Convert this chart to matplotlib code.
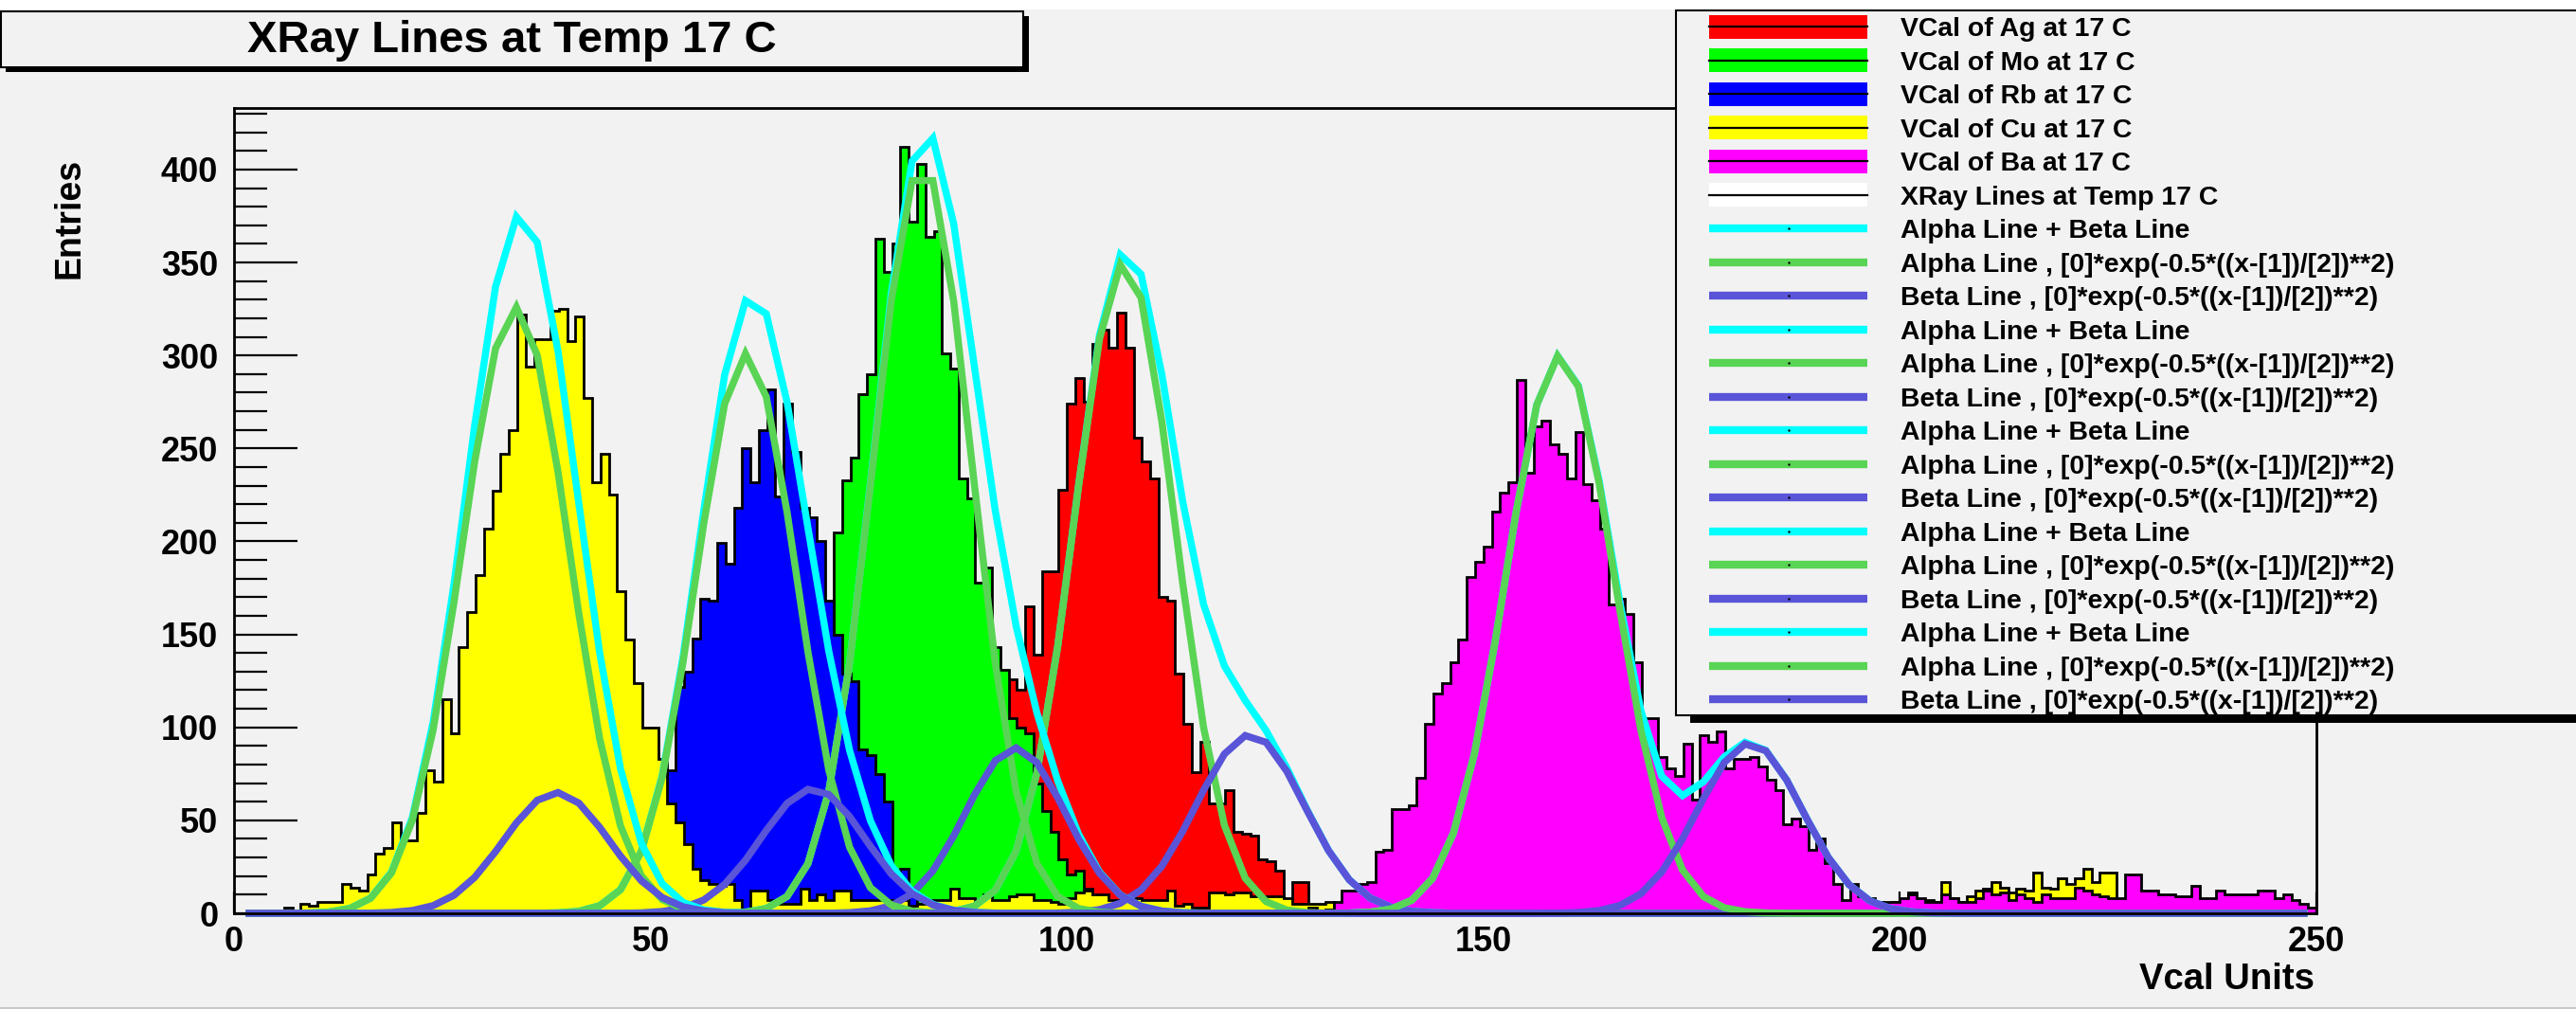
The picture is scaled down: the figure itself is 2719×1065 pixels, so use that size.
import numpy as np
import matplotlib
matplotlib.use('Agg')
import matplotlib.pyplot as plt
from matplotlib.patches import Rectangle
from matplotlib.ticker import MultipleLocator

plt.rcParams['font.family'] = ['Liberation Sans', 'DejaVu Sans']
plt.rcParams['font.weight'] = 'bold'

W, H = 2719, 1065
BG = '#f2f2f2'

# bin contents, one bin per Vcal unit
cu_start = 0
cu_counts = [0, 0, 0, 0, 0, 1, 3, 1, 5, 4,
             6, 6, 6, 16, 14, 12, 21, 32, 35, 49,
             39, 39, 54, 77, 71, 115, 97, 143, 162, 182,
             207, 227, 247, 260, 322, 294, 309, 309, 324, 325,
             308, 321, 277, 232, 247, 225, 173, 147, 124, 100,
             100, 83, 59, 49, 37, 24, 18, 16, 15, 16,
             7, 2, 12, 12, 7, 5, 5, 5, 13, 7,
             10, 7, 12, 12, 7, 7, 7, 7, 7, 7,
             7, 4, 5, 7, 7, 7, 13, 8, 8, 7,
             10, 7, 7, 9, 10, 10, 7, 7, 6, 5,
             8, 11, 12, 10, 10, 7, 7, 8, 8, 7,
             7, 7, 12, 4, 5, 3, 3, 11, 11, 10,
             11, 11, 9, 9, 9, 9, 8, 5, 5, 5,
             5, 6, 4, 4, 5, 4, 5, 6, 4, 5,
             5, 4, 6, 5, 4, 5, 6, 5, 4, 5,
             5, 6, 4, 5, 5, 6, 4, 5, 5, 4,
             5, 6, 5, 4, 5, 5, 4, 6, 5, 4,
             5, 5, 4, 6, 5, 4, 5, 4, 6, 5,
             4, 5, 5, 4, 6, 5, 4, 5, 4, 5,
             4, 5, 4, 5, 4, 4, 5, 6, 5, 6,
             5, 11, 7, 7, 6, 17, 8, 6, 9, 12,
             13, 17, 14, 11, 13, 12, 22, 14, 13, 19,
             16, 19, 24, 17, 22, 22, 6, 8, 8, 8,
             6, 5, 4, 4, 3, 3, 3, 4, 3, 3,
             3, 2, 3, 3, 2, 3, 2, 3, 2, 2]

rb_start = 47
rb_counts = [10, 15, 25, 40, 58, 77, 122, 130, 148, 169,
             168, 199, 188, 218, 250, 232, 260, 282, 224, 274,
             248, 218, 213, 200, 168, 150, 129, 125, 88, 85,
             75, 60, 22, 24, 10, 5, 3, 2]

mo_start = 68
mo_counts = [20, 50, 90, 140, 205, 233, 245, 279, 290, 363,
             345, 360, 412, 372, 403, 364, 367, 301, 293, 234,
             223, 178, 186, 143, 131, 105, 100, 97, 70, 55,
             44, 29, 21, 23, 13, 8, 6, 4, 3, 2]

ag_start = 86
ag_counts = [20, 30, 40, 55, 70, 90, 110, 126, 120, 165,
             139, 184, 184, 228, 274, 288, 275, 306, 314, 304,
             323, 304, 256, 243, 234, 170, 168, 129, 102, 76,
             92, 59, 59, 66, 44, 43, 42, 29, 28, 23,
             7, 17, 17, 3, 2]

ba_start = 129
ba_counts = [3, 0, 2, 6, 12, 12, 16, 17, 33, 34,
             56, 56, 58, 73, 102, 118, 124, 135, 147, 181,
             189, 197, 216, 226, 232, 287, 237, 262, 265, 252,
             247, 234, 259, 231, 222, 207, 166, 169, 161, 135,
             105, 105, 84, 78, 74, 91, 61, 96, 92, 98,
             78, 83, 83, 84, 79, 72, 66, 48, 51, 47,
             34, 40, 27, 16, 7, 16, 9, 8, 6, 6,
             6, 8, 10, 8, 6, 6, 10, 8, 6, 6,
             8, 12, 10, 11, 7, 10, 8, 6, 10, 8,
             8, 8, 14, 12, 10, 9, 8, 8, 21, 21,
             12, 12, 10, 10, 9, 9, 15, 8, 8, 12,
             10, 10, 10, 10, 12, 12, 8, 10, 7, 5,
             3]

# fit parameters per element: amplitude [0], mean [1], sigma [2]
# order: Ag, Mo, Rb, Cu, Ba
alpha_amp = [350, 403, 301, 326, 300]
alpha_mean = [106.9, 82.65, 61.5, 33.8, 159.2]
alpha_sigma = [6.0, 5.9, 6.0, 6.4, 6.5]
beta_amp = [96, 89, 67, 65, 91.5]
beta_mean = [122.0, 93.8, 69.5, 38.7, 182.0]
beta_sigma = [6.5, 6.0, 6.2, 6.3, 6.3]

# points where the fitted functions were sampled (100 points)
fx_start = 1.4
fx_step = 2.5
fx_n = 100

hist_labels = ['VCal of Ag at 17 C', 'VCal of Mo at 17 C', 'VCal of Rb at 17 C',
               'VCal of Cu at 17 C', 'VCal of Ba at 17 C']
hist_colors = ['#ff0000', '#00ff00', '#0000ff', '#ffff00', '#ff00ff']
sum_color = '#00ffff'
alpha_color = '#59d454'
beta_color = '#5954d8'


def full_hist(start, vals):
    c = np.zeros(250)
    c[start:start + len(vals)] = vals
    return c


hists = [full_hist(ag_start, ag_counts), full_hist(mo_start, mo_counts),
         full_hist(rb_start, rb_counts), full_hist(cu_start, cu_counts),
         full_hist(ba_start, ba_counts)]
edges = np.arange(251)

fig = plt.figure(figsize=(W / 100, H / 100), dpi=100, facecolor=BG)
ax = fig.add_axes([247 / W, 1 - 964 / H, (2445 - 247) / W, (964 - 114) / H])
ax.set_facecolor(BG)

z = 2
for counts, col in zip(hists, hist_colors):
    ax.stairs(counts, edges, fill=True, color=col, lw=0, zorder=z)
    ax.stairs(counts, edges, color='black', lw=2.0, zorder=z + 0.5)
    z += 1

xf = fx_start + fx_step * np.arange(fx_n)
for i in range(5):
    a = alpha_amp[i] * np.exp(-0.5 * ((xf - alpha_mean[i]) / alpha_sigma[i]) ** 2)
    b = beta_amp[i] * np.exp(-0.5 * ((xf - beta_mean[i]) / beta_sigma[i]) ** 2)
    for yv, col in ((a + b, sum_color), (a, alpha_color), (b, beta_color)):
        ax.plot(xf, yv, color=col, lw=5.4, clip_on=False, zorder=z,
                solid_joinstyle='miter', solid_capstyle='butt')
        z += 0.1

ax.set_xlim(0, 250)
ax.set_ylim(0, 433.1)
ax.xaxis.set_major_locator(MultipleLocator(50))
ax.xaxis.set_minor_locator(MultipleLocator(10))
ax.yaxis.set_major_locator(MultipleLocator(50))
ax.yaxis.set_minor_locator(MultipleLocator(10))
ax.tick_params(axis='x', which='major', direction='in', length=16.5, width=1.6,
               labelsize=26, pad=9)
ax.tick_params(axis='x', which='minor', direction='in', length=7.5, width=1.6)
ax.tick_params(axis='y', which='major', direction='in', length=48, width=1.6,
               labelsize=26, pad=12)
ax.tick_params(axis='y', which='minor', direction='in', length=25, width=1.6)
for s in ax.spines.values():
    s.set_linewidth(2.0)
    s.set_zorder(50)

fig.text(73 / W, 1 - 230 / H, 'Entries', rotation=90, fontsize=27,
         ha='center', va='center')
fig.text(2443 / W, 1 - 1034 / H, 'Vcal Units', fontsize=27.5,
         ha='right', va='center')

# overlay in pixel coordinates for title box and legend
ov = fig.add_axes([0, 0, 1, 1], zorder=10)
ov.set_xlim(0, W)
ov.set_ylim(H, 0)
ov.axis('off')
ov.patch.set_alpha(0)

ov.add_patch(Rectangle((0, 0), W, 10, fc='white', ec='none'))
ov.plot([0, W], [1063.5, 1063.5], color='#c8c8c8', lw=1.5)

# title box with shadow
ov.add_patch(Rectangle((6, 17), 1080, 59, fc='black', ec='none'))
ov.add_patch(Rectangle((1, 12), 1079, 59, fc=BG, ec='black', lw=1.5))
ov.text(540, 43, 'XRay Lines at Temp 17 C', fontsize=34, ha='center', va='center')

# legend box with shadow
ov.add_patch(Rectangle((1784, 26), 960, 737, fc='black', ec='none'))
ov.add_patch(Rectangle((1769, 11), 960, 744, fc=BG, ec='black', lw=1.5))

labels = hist_labels + ['XRay Lines at Temp 17 C']
for k in range(5):
    labels += ['Alpha Line + Beta Line',
               'Alpha Line , [0]*exp(-0.5*((x-[1])/[2])**2)',
               'Beta Line , [0]*exp(-0.5*((x-[1])/[2])**2)']

x0, x1 = 1804, 1971
for i, lab in enumerate(labels):
    yc = 28.3 + 35.5 * i
    if i < 6:
        fc = hist_colors[i] if i < 5 else 'white'
        ov.add_patch(Rectangle((x0, yc - 12.5), x1 - x0, 25, fc=fc, ec='none'))
        ov.plot([x0, x1], [yc, yc], color='black', lw=1.6)
    else:
        col = [sum_color, alpha_color, beta_color][(i - 6) % 3]
        ov.plot([x0, x1], [yc, yc], color=col, lw=6, solid_capstyle='butt')
        ov.plot([(x0 + x1) / 2], [yc], 'k.', ms=1.5)
    ov.text(2006, yc + 10, lab, fontsize=20.4, ha='left', va='baseline')

fig.savefig('out.png', dpi=100, facecolor=BG)
